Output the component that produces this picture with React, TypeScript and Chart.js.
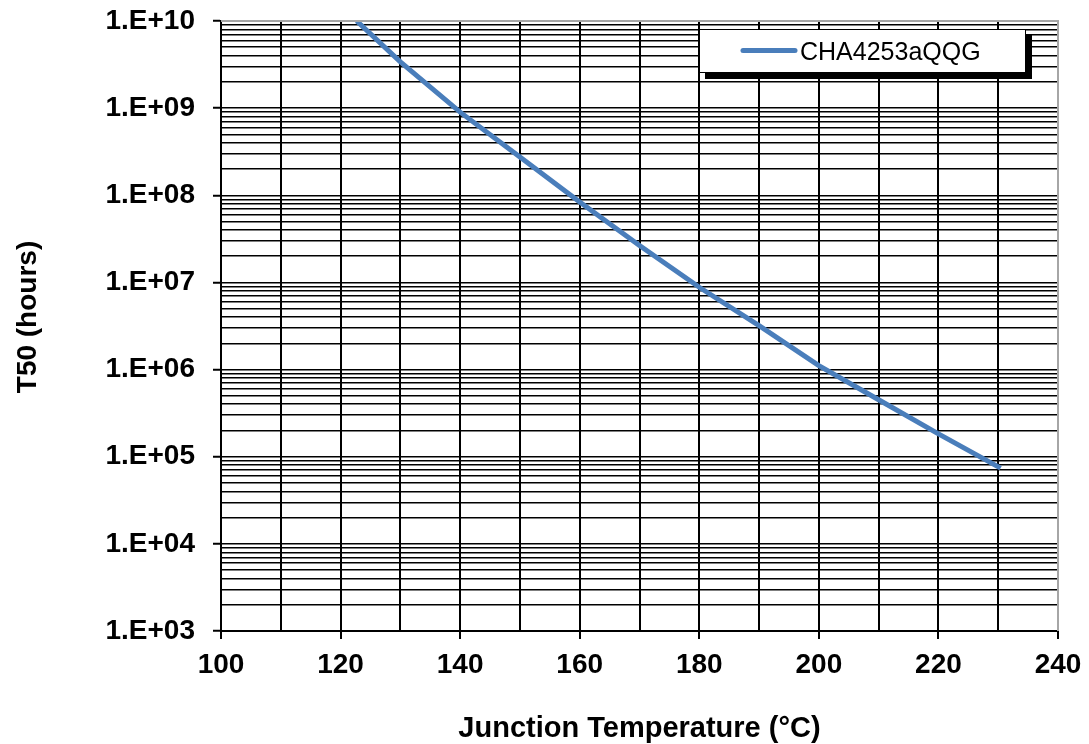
import React, { useEffect, useRef } from 'react';
import { Chart, registerables } from 'chart.js';

Chart.register(...registerables);

// ---- Data ----
const seriesName = 'CHA4253aQQG';
const junctionTempC = [122.7, 130, 140, 150, 160, 170, 180, 190, 200, 210, 220, 230.4];
const t50Hours = [1.0e10, 3.4e9, 9.0e8, 2.75e8, 8.4e7, 2.65e7, 8.8e6, 3.2e6, 1.11e6, 4.5e5, 1.83e5, 7.4e4];

// ---- Axis texts ----
const xTickLabels = ['100', '120', '140', '160', '180', '200', '220', '240'];
const yTickLabels = ['1.E+03', '1.E+04', '1.E+05', '1.E+06', '1.E+07', '1.E+08', '1.E+09', '1.E+10'];
const xTitle = 'Junction Temperature (°C)';
const yTitle = 'T50 (hours)';

const X_MIN = 100;
const X_MAX = 240;
const X_STEP = 10;
const Y_MIN_EXP = 3;
const Y_MAX_EXP = 10;

const FONT = '"Liberation Sans", Arial, Helvetica, sans-serif';
const LINE_COLOR = '#4a7ebb';

const buildLogTicks = () => {
  const ticks: { value: number; major: boolean }[] = [];
  for (let e = Y_MIN_EXP; e <= Y_MAX_EXP; e++) {
    ticks.push({ value: Math.pow(10, e), major: true });
    if (e < Y_MAX_EXP) {
      for (let m = 2; m <= 9; m++) ticks.push({ value: m * Math.pow(10, e), major: false });
    }
  }
  return ticks;
};

const decadeLabel = (v: number): string => {
  const e = Math.round(Math.log10(v));
  if (Math.abs(v - Math.pow(10, e)) / Math.pow(10, e) < 1e-6) {
    const idx = e - Y_MIN_EXP;
    return yTickLabels[idx] ?? '';
  }
  return '';
};

const xLabel = (v: number): string => {
  const s = String(Math.round(v));
  return xTickLabels.includes(s) ? s : '';
};

const decorPlugin = {
  id: 'decor',
  afterDatasetsDraw(chart: any) {
    const { ctx, chartArea: a } = chart;
    ctx.save();
    ctx.strokeStyle = '#a6a6a6';
    ctx.lineWidth = 2;
    ctx.beginPath();
    ctx.moveTo(a.left, a.top);
    ctx.lineTo(a.right, a.top);
    ctx.lineTo(a.right, a.bottom);
    ctx.stroke();
    ctx.restore();
  },
  afterDraw(chart: any) {
    const { ctx, chartArea: a } = chart;
    ctx.save();
    ctx.fillStyle = '#000';
    ctx.textAlign = 'center';
    ctx.textBaseline = 'alphabetic';
    ctx.font = `bold 29px ${FONT}`;
    ctx.fillText(xTitle, (a.left + a.right) / 2, 737);
    ctx.save();
    ctx.translate(36, 317);
    ctx.rotate(-Math.PI / 2);
    ctx.font = `bold 28px ${FONT}`;
    ctx.fillText(yTitle, 0, 0);
    ctx.restore();

    // legend box
    const lx = 699, ly = 29, lw = 327, lh = 44;
    ctx.fillStyle = '#000';
    ctx.fillRect(lx + 6, ly + 6, lw, lh);
    ctx.fillStyle = '#fff';
    ctx.fillRect(lx, ly, lw, lh);
    ctx.strokeStyle = '#000';
    ctx.lineWidth = 1;
    ctx.strokeRect(lx + 0.5, ly + 0.5, lw - 1, lh - 1);
    const ds = chart.data.datasets[0];
    ctx.strokeStyle = ds.borderColor;
    ctx.lineWidth = 5;
    ctx.lineCap = 'round';
    ctx.beginPath();
    ctx.moveTo(743, 50.5);
    ctx.lineTo(795, 50.5);
    ctx.stroke();
    ctx.fillStyle = '#000';
    ctx.textAlign = 'left';
    ctx.font = `25px ${FONT}`;
    ctx.fillText(ds.label, 800, 60);
    ctx.restore();
  },
};

export default function App() {
  const canvasRef = useRef<HTMLCanvasElement | null>(null);

  useEffect(() => {
    const canvas = canvasRef.current;
    if (!canvas) return;
    const chart = new Chart(canvas, {
      type: 'line',
      data: {
        datasets: [
          {
            label: seriesName,
            data: junctionTempC.map((t, i) => ({ x: t, y: t50Hours[i] })),
            borderColor: LINE_COLOR,
            backgroundColor: LINE_COLOR,
            borderWidth: 5,
            pointRadius: 0,
            tension: 0,
            fill: false,
            clip: 0,
          } as any,
        ],
      },
      options: {
        responsive: false,
        animation: false,
        devicePixelRatio: 1,
        layout: { padding: { top: 21, right: 31, left: 0, bottom: 0 } },
        plugins: {
          legend: { display: false },
          tooltip: { enabled: false },
          title: { display: false },
        },
        scales: {
          x: {
            type: 'linear',
            min: X_MIN,
            max: X_MAX,
            afterFit: (scale: any) => {
              scale.height = 113;
              scale.paddingLeft = 0;
              scale.paddingRight = 0;
            },
            ticks: {
              stepSize: X_STEP,
              autoSkip: false,
              maxRotation: 0,
              minRotation: 0,
              padding: 9,
              color: '#000',
              font: { family: FONT, size: 28, weight: 'bold' },
              callback: (v: any) => xLabel(Number(v)),
            },
            grid: {
              color: '#000',
              lineWidth: 2,
              tickLength: 8,
              tickWidth: 2,
              tickColor: (c: any) => (c.tick && xLabel(c.tick.value) ? '#000' : 'rgba(0,0,0,0)'),
            },
            border: { display: true, color: '#000', width: 2 },
          },
          y: {
            type: 'logarithmic',
            min: Math.pow(10, Y_MIN_EXP),
            max: Math.pow(10, Y_MAX_EXP),
            afterBuildTicks: (scale: any) => {
              scale.ticks = buildLogTicks();
            },
            afterFit: (scale: any) => {
              scale.width = 221;
              scale.paddingTop = 0;
              scale.paddingBottom = 0;
            },
            ticks: {
              autoSkip: false,
              padding: 18,
              color: '#000',
              font: { family: FONT, size: 28, weight: 'bold' },
              callback: (v: any) => decadeLabel(Number(v)),
            },
            grid: {
              color: '#000',
              lineWidth: 1.5,
              tickLength: 8,
              tickWidth: 2,
              tickColor: (c: any) => (c.tick && decadeLabel(c.tick.value) ? '#000' : 'rgba(0,0,0,0)'),
            },
            border: { display: true, color: '#000', width: 2 },
          },
        },
      } as any,
      plugins: [decorPlugin],
    });
    return () => chart.destroy();
  }, []);

  return (
    <div style={{ position: 'absolute', left: 0, top: 0, width: 1089, height: 744, background: '#fff' }}>
      <canvas ref={canvasRef} width={1089} height={744} style={{ display: 'block' }} />
    </div>
  );
}
